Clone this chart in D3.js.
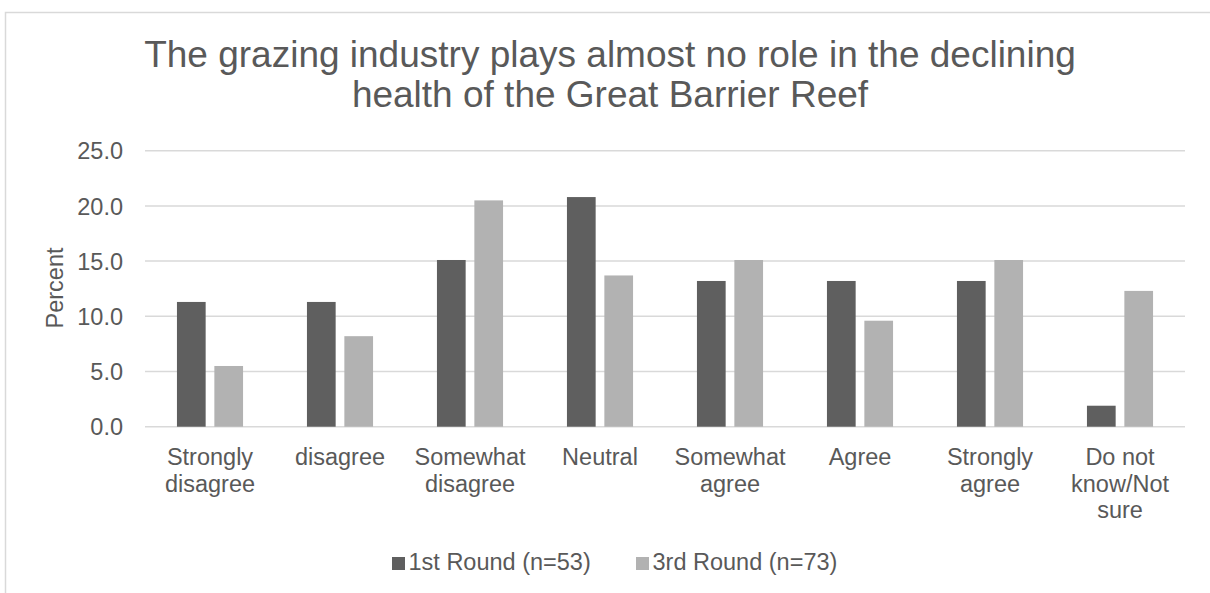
<!DOCTYPE html>
<html>
<head>
<meta charset="utf-8">
<script src="https://cdn.jsdelivr.net/npm/d3@7"></script>
<style>
  html, body { margin: 0; padding: 0; background: #fff; }
  svg { display: block; font-family: Arial, "Liberation Sans", sans-serif; }
</style>
</head>
<body>
<svg id="chart" width="1210" height="593"></svg>
<script>
const titleLines = ["The grazing industry plays almost no role in the declining", "health of the Great Barrier Reef"];
const categories = ["Strongly disagree", "disagree", "Somewhat disagree", "Neutral", "Somewhat agree", "Agree", "Strongly agree", "Do not know/Not sure"];
const categoryLines = [["Strongly", "disagree"], ["disagree"], ["Somewhat", "disagree"], ["Neutral"], ["Somewhat", "agree"], ["Agree"], ["Strongly", "agree"], ["Do not", "know/Not", "sure"]];
const seriesNames = ["1st Round (n=53)", "3rd Round (n=73)"];
const round1 = [11.3, 11.3, 15.1, 20.8, 13.2, 13.2, 13.2, 1.9];
const round3 = [5.5, 8.2, 20.5, 13.7, 15.1, 9.6, 15.1, 12.3];
const yTicks = [0, 5, 10, 15, 20, 25];
const yLabel = "Percent";
const colors = ["#5f5f5f", "#b2b2b2"];

const svg = d3.select("#chart");
const textColor = "#595959";

// outer chart border
svg.append("rect").attr("x", 5.5).attr("y", 12.5).attr("width", 1220).attr("height", 620)
  .attr("fill", "none").attr("stroke", "#d9d9d9").attr("stroke-width", 1.5);

const plot = { left: 145, right: 1185, top: 150.7, bottom: 426.7 };

const x = d3.scaleBand().domain(categories).range([plot.left, plot.right]).paddingInner(0).paddingOuter(0);
const y = d3.scaleLinear().domain([0, 25]).range([plot.bottom, plot.top]);

// gridlines
svg.append("g").selectAll("line").data(yTicks).join("line")
  .attr("x1", plot.left).attr("x2", plot.right)
  .attr("y1", d => y(d)).attr("y2", d => y(d))
  .attr("stroke", "#d9d9d9").attr("stroke-width", 1.5);

// y axis labels
const yAxis = d3.axisLeft(y).tickValues(yTicks).tickFormat(d3.format(".1f")).tickSize(0).tickPadding(0);
const yg = svg.append("g").attr("transform", `translate(123,0)`).call(yAxis);
yg.select(".domain").remove();
yg.selectAll("text").attr("fill", textColor).attr("font-size", "23.5px")
  .attr("font-family", "Arial, 'Liberation Sans', sans-serif").attr("dy", "0.35em");

// bars
const bw = 28.7, gap = 8.7;
const series = [round1, round3];
const inner = d3.scaleOrdinal().domain([0, 1]).range([-gap / 2 - bw, gap / 2]);
series.forEach((vals, si) => {
  svg.append("g").selectAll("rect").data(vals).join("rect")
    .attr("x", (d, i) => x(categories[i]) + x.bandwidth() / 2 + inner(si))
    .attr("width", bw)
    .attr("y", d => y(d))
    .attr("height", d => y(0) - y(d))
    .attr("fill", colors[si]);
});

// x axis labels
const xl = svg.append("g");
categories.forEach((c, i) => {
  const t = xl.append("text")
    .attr("x", x(c) + x.bandwidth() / 2)
    .attr("y", 465)
    .attr("text-anchor", "middle")
    .attr("font-size", "23.5px")
    .attr("fill", textColor);
  categoryLines[i].forEach((ln, k) => {
    t.append("tspan").attr("x", x(c) + x.bandwidth() / 2).attr("dy", k === 0 ? 0 : 26.5).text(ln);
  });
});

// title
const tt = svg.append("text").attr("text-anchor", "middle").attr("font-size", "37px").attr("fill", textColor);
titleLines.forEach((ln, k) => {
  tt.append("tspan").attr("x", 610).attr("y", 67 + k * 40).text(ln);
});

// y axis title
svg.append("text")
  .attr("transform", "translate(63,288) rotate(-90)")
  .attr("text-anchor", "middle")
  .attr("font-size", "23.5px")
  .attr("fill", textColor)
  .text(yLabel);

// legend
const legendX = [392, 636];
seriesNames.forEach((n, i) => {
  svg.append("rect").attr("x", legendX[i]).attr("y", 557).attr("width", 13).attr("height", 13).attr("fill", colors[i]);
  svg.append("text").attr("x", legendX[i] + 16.5).attr("y", 570).attr("font-size", "23.5px").attr("fill", textColor).text(n);
});
</script>
</body>
</html>
